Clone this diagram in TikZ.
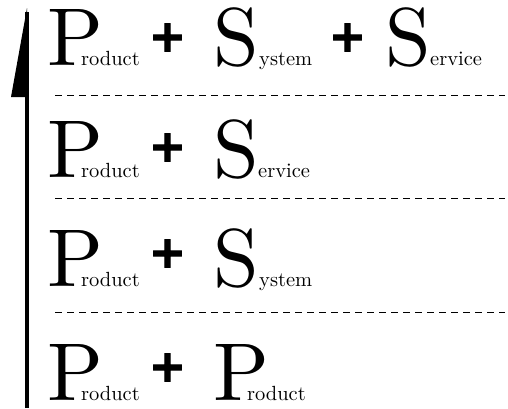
\documentclass[tikz,border=0pt]{standalone}
\usepackage{fontspec}
\newfontfamily\wordfont{lmroman10-regular.otf}
\newfontfamily\plusfont[FakeBold=3]{DejaVu Sans Bold}
\usetikzlibrary{positioning}

% big initial, kern, small rest of the word
\newcommand\capword[3]{{\wordfont\fontsize{82}{82}\selectfont #1}\kern#2{\wordfont\fontsize{20.5}{20.5}\selectfont #3}}

\begin{document}
\begin{tikzpicture}[
  x=1pt,y=-1pt,
  term/.style={anchor=base west,inner sep=0pt},
  plus/.style={font=\plusfont\fontsize{44}{44}\selectfont,inner sep=0pt},
  sep/.style={dash pattern=on 7pt off 5pt,line width=1pt}
]
\useasboundingbox (0,0) rectangle (508,408);

% vertical arrow
\draw[line width=3.8pt] (27,408)--(27,12);
\fill (27,8)--(11,97)--(28.9,97)--cycle;

% separators
\foreach \y in {95,198,312}
  \draw[sep] (55,\y)--(505,\y);

% P + S + S
\begin{scope}[shift={(0,65)}]
  \node[term] (p1) at (47,0) {\capword{P}{-22pt}{roduct}};
  \node[plus] (a1) at (167.5,-27.5) {+};
  \node[term] (s1) at (213.4,0) {\capword{S}{0pt}{ystem}};
  \node[plus] (b1) at (347.5,-27.5) {+};
  \node[term] (v1) at (385.4,0) {\capword{S}{-1pt}{ervice}};
\end{scope}

% P + S (service)
\begin{scope}[shift={(0,177)}]
  \node[term] (p2) at (47,0) {\capword{P}{-22pt}{roduct}};
  \node[plus] (a2) at (167.5,-29.5) {+};
  \node[term] (v2) at (213.4,0) {\capword{S}{-1pt}{ervice}};
\end{scope}

% P + S (system)
\begin{scope}[shift={(0,286)}]
  \node[term] (p3) at (47,0) {\capword{P}{-22pt}{roduct}};
  \node[plus] (a3) at (167.5,-32.5) {+};
  \node[term] (s3) at (213.4,0) {\capword{S}{0pt}{ystem}};
\end{scope}

% P + P
\begin{scope}[shift={(0,400)}]
  \node[term] (p4) at (47,0) {\capword{P}{-22pt}{roduct}};
  \node[plus] (a4) at (167.5,-32.5) {+};
  \node[term] (q4) at (213,0) {\capword{P}{-22pt}{roduct}};
\end{scope}

\end{tikzpicture}
\end{document}
